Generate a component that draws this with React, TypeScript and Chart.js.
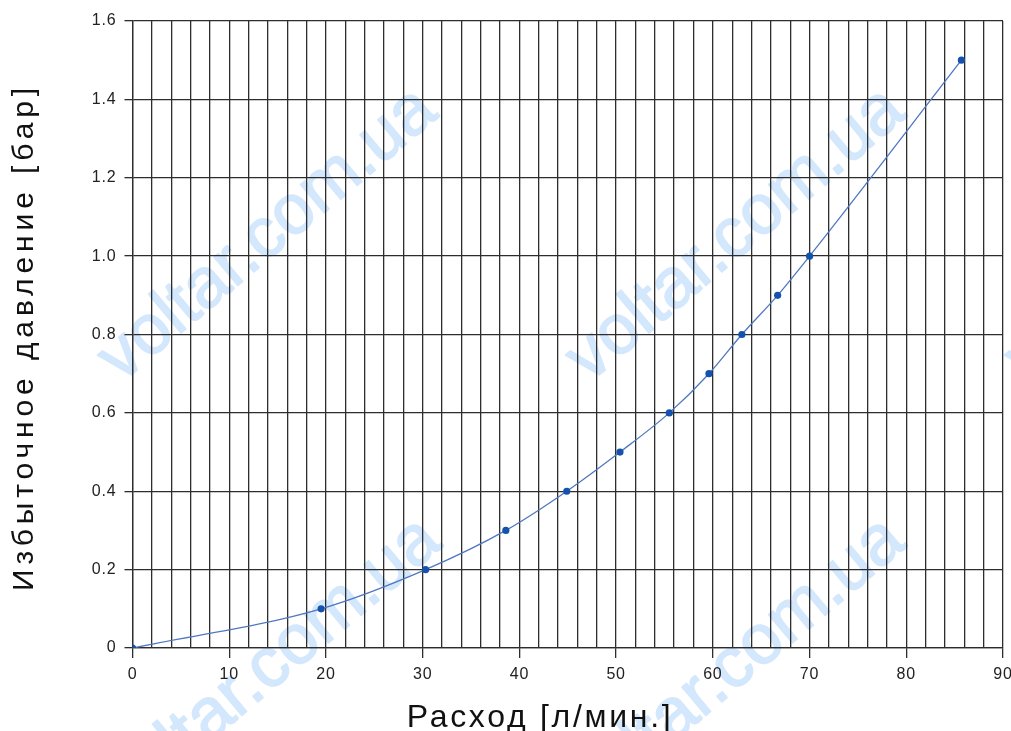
import React, { useEffect, useRef } from "react";
import { Chart, registerables } from "chart.js";

Chart.register(...registerables);

const flowValues = [0, 19.5, 30.3, 38.6, 44.9, 50.4, 55.5, 59.6, 63.0, 66.7, 70.0, 85.7];
const pressureValues = [0, 0.1, 0.2, 0.3, 0.4, 0.5, 0.6, 0.7, 0.8, 0.9, 1.0, 1.5];
const xTitle = "Расход [л/мин.]";
const yTitle = "Избыточное давление [бар]";
const watermarkText = "voltar.com.ua";
const watermarkCenters = [
  [268, 235],
  [736, 235],
  [1175, 235],
  [272, 665],
  [736, 665],
];

const GRID = "#2d2d2d";
const FONT = '"Liberation Sans", Arial, sans-serif';

export default function App() {
  const ref = useRef<HTMLCanvasElement | null>(null);

  useEffect(() => {
    document.body.style.margin = "0";
    const canvas = ref.current!;
    const watermark = {
      id: "watermark",
      beforeDraw(chart: any) {
        const ctx = chart.ctx;
        ctx.save();
        ctx.font = "70px " + FONT;
        ctx.fillStyle = "#d3e7fd";
        ctx.strokeStyle = "#d3e7fd";
        ctx.lineWidth = 1.6;
        ctx.lineJoin = "round";
        ctx.textAlign = "center";
        ctx.textBaseline = "middle";
        for (const [cx, cy] of watermarkCenters) {
          ctx.save();
          ctx.translate(cx, cy);
          ctx.rotate((-40 * Math.PI) / 180);
          ctx.fillText(watermarkText, 0, 0);
          ctx.strokeText(watermarkText, 0, 0);
          ctx.restore();
        }
        ctx.restore();
        (ctx as any).letterSpacing = "0.8px";
      },
    };
    const titles = {
      id: "titles",
      afterDraw(chart: any) {
        const ctx = chart.ctx;
        ctx.save();
        ctx.fillStyle = "#111";
        ctx.textAlign = "center";
        ctx.textBaseline = "alphabetic";
        ctx.font = "32px " + FONT;
        (ctx as any).letterSpacing = "2.7px";
        ctx.fillText(xTitle, 540, 727);
        ctx.translate(33, 337);
        ctx.rotate(-Math.PI / 2);
        ctx.font = "30px " + FONT;
        (ctx as any).letterSpacing = "4.9px";
        ctx.fillText(yTitle, 0, 0);
        ctx.restore();
        (ctx as any).letterSpacing = "0px";
      },
    };
    const chart = new Chart(canvas, {
      type: "line",
      data: {
        datasets: [
          {
            data: flowValues.map((x, i) => ({ x, y: pressureValues[i] })),
            borderColor: "#5078c0",
            borderWidth: 1.3,
            pointBackgroundColor: "#1552ad",
            pointBorderWidth: 0,
            pointRadius: 3.6,
            cubicInterpolationMode: "monotone",
            fill: false,
          },
        ],
      },
      options: {
        animation: false,
        responsive: true,
        maintainAspectRatio: false,
        layout: { padding: { left: 0, right: 8, top: 21, bottom: 0 } },
        plugins: { legend: { display: false }, tooltip: { enabled: false } },
        scales: {
          x: {
            type: "linear",
            min: 0,
            max: 90,
            afterFit: (s: any) => {
              s.height = 83;
              s.paddingRight = 0;
              s.paddingLeft = 0;
            },
            ticks: {
              stepSize: 2,
              autoSkip: false,
              maxRotation: 0,
              padding: 7,
              color: "#222",
              font: { family: FONT, size: 16 },
              callback: (v: any) => (Number(v) % 10 === 0 ? String(v) : ""),
            },
            grid: {
              color: GRID,
              lineWidth: 1.3,
              tickLength: 10,
              tickColor: (c: any) =>
                c.tick && Math.round(c.tick.value) % 10 === 0 ? GRID : "rgba(0,0,0,0)",
            },
            border: { color: GRID, width: 1.3 },
          },
          y: {
            type: "linear",
            min: 0,
            max: 1.6,
            afterFit: (s: any) => {
              s.width = 132.5;
              s.paddingTop = 0;
              s.paddingBottom = 0;
            },
            ticks: {
              stepSize: 0.2,
              padding: 8,
              color: "#222",
              font: { family: FONT, size: 16 },
              callback: (v: any) => (Math.abs(Number(v)) < 1e-9 ? "0" : Number(v).toFixed(1)),
            },
            grid: { color: GRID, lineWidth: 1.3, tickLength: 8, tickColor: GRID },
            border: { color: GRID, width: 1.3 },
          },
        },
      },
      plugins: [watermark, titles],
    });
    return () => chart.destroy();
  }, []);

  return (
    <div style={{ width: 1011, height: 731, position: "relative", background: "#fff" }}>
      <canvas ref={ref} />
    </div>
  );
}
